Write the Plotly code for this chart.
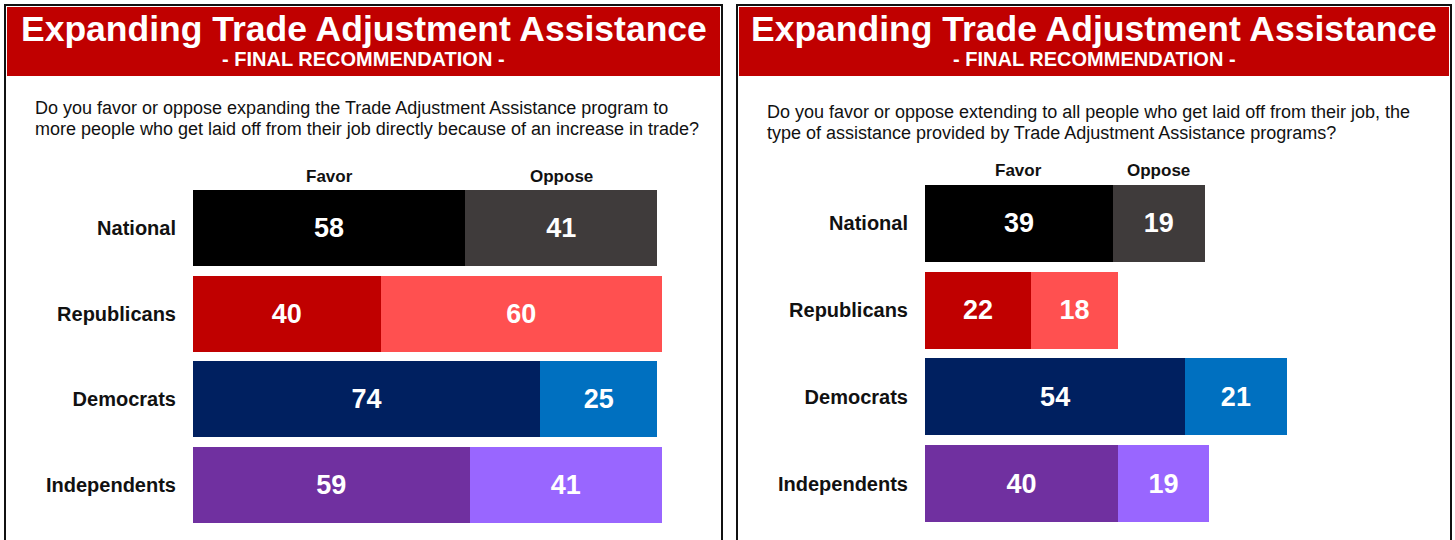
import plotly.graph_objects as go

W, H = 1455, 540

groups = ["National", "Republicans", "Democrats", "Independents"]

# Panel 1: expanding TAA to trade-displaced workers
favor_1 = [58, 40, 74, 59]
oppose_1 = [41, 60, 25, 41]

# Panel 2: extending TAA-style assistance to all laid-off workers
favor_2 = [39, 22, 54, 40]
oppose_2 = [19, 18, 21, 19]

favor_colors = ["#000000", "#c00000", "#002060", "#7030a0"]
oppose_colors = ["#3f3b3b", "#ff5050", "#0070c0", "#9966ff"]

title_text = "Expanding Trade Adjustment Assistance"
subtitle_text = "- FINAL RECOMMENDATION -"
question_1 = ["Do you favor or oppose expanding the Trade Adjustment Assistance program to",
              "more people who get laid off from their job directly because of an increase in trade?"]
question_2 = ["Do you favor or oppose extending to all people who get laid off from their job, the",
              "type of assistance provided by Trade Adjustment Assistance programs?"]

FONT = "Arial, Liberation Sans, Helvetica, sans-serif"


def px(x):
    return x / W


def py(y):
    return 1 - y / H


fig = go.Figure()


def add_panel(favor, oppose, xa, ya):
    for vals, cols, name in ((favor, favor_colors, "Favor"), (oppose, oppose_colors, "Oppose")):
        fig.add_trace(go.Bar(
            x=vals, y=groups, orientation="h", name=name,
            marker=dict(color=cols, line=dict(width=0)),
            text=[str(v) for v in vals], textposition="inside",
            insidetextanchor="middle", textangle=0, constraintext="none",
            textfont=dict(family=FONT, size=27, color="white", weight="bold"),
            xaxis=xa, yaxis=ya, showlegend=False, hoverinfo="skip",
        ))


add_panel(favor_1, oppose_1, "x", "y")
add_panel(favor_2, oppose_2, "x2", "y2")

axis_x = dict(range=[0, 100], visible=False, fixedrange=True)
axis_y = dict(type="category", categoryorder="array", categoryarray=groups,
              range=[3.5, -0.5], showgrid=False, zeroline=False, showline=False,
              ticks="", ticklabelstandoff=16,
              tickfont=dict(family=FONT, size=20, color="#111111", weight="bold"))

fig.update_layout(
    width=W, height=H, margin=dict(l=0, r=0, t=0, b=0),
    paper_bgcolor="white", plot_bgcolor="white",
    barmode="stack", bargap=0.11,
    xaxis=dict(domain=[px(193), px(193 + 469)], anchor="y", **axis_x),
    yaxis=dict(domain=[py(527.5), py(185.5)], anchor="x", **axis_y),
    xaxis2=dict(domain=[px(925), px(925 + 482)], anchor="y2", **axis_x),
    yaxis2=dict(domain=[py(527), py(180)], anchor="x2", **axis_y),
)

shapes = []
annotations = []
panels = [
    dict(x0=5, x1=722, q=question_1, qx=33, qy=(108, 129), xref="x", fav=favor_1, opp=oppose_1, hy=176),
    dict(x0=737, x1=1451, q=question_2, qx=765, qy=(112, 133), xref="x2", fav=favor_2, opp=oppose_2, hy=170),
]
for p in panels:
    # frame and red header band
    shapes.append(dict(type="rect", xref="paper", yref="paper",
                       x0=px(p["x0"]), x1=px(p["x1"]), y0=py(560), y1=py(5),
                       line=dict(color="#111111", width=2), fillcolor="rgba(0,0,0,0)", layer="below"))
    shapes.append(dict(type="rect", xref="paper", yref="paper",
                       x0=px(p["x0"] + 2), x1=px(p["x1"] - 2), y0=py(76), y1=py(7),
                       line=dict(width=0), fillcolor="#c00000", layer="below"))
    cx = (p["x0"] + p["x1"]) / 2
    annotations.append(dict(text=f"<b>{title_text}</b>", xref="paper", yref="paper",
                            x=px(cx), y=py(29), xanchor="center", yanchor="middle", showarrow=False,
                            font=dict(family=FONT, size=35.5, color="white")))
    annotations.append(dict(text=f"<b>{subtitle_text}</b>", xref="paper", yref="paper",
                            x=px(cx), y=py(59), xanchor="center", yanchor="middle", showarrow=False,
                            font=dict(family=FONT, size=20, color="white")))
    for line, ly in zip(p["q"], p["qy"]):
        annotations.append(dict(text=line, xref="paper", yref="paper", align="left",
                                x=px(p["qx"]), y=py(ly), xanchor="left", yanchor="middle",
                                showarrow=False,
                                font=dict(family=FONT, size=18, color="#111111")))
    # column headers centred over the National segments
    fav0, opp0 = p["fav"][0], p["opp"][0]
    for label, xv in (("Favor", fav0 / 2), ("Oppose", fav0 + opp0 / 2)):
        annotations.append(dict(text=f"<b>{label}</b>", xref=p["xref"], yref="paper",
                                x=xv, y=py(p["hy"]), xanchor="center", yanchor="middle", showarrow=False,
                                font=dict(family=FONT, size=17, color="#111111")))

fig.update_layout(shapes=shapes, annotations=annotations)

fig.write_html("out.html")
